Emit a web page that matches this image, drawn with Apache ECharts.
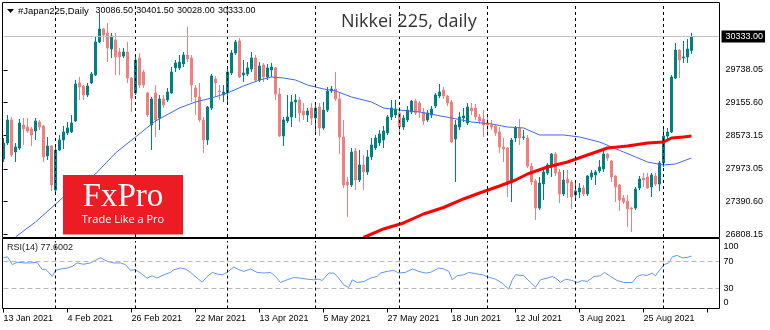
<!DOCTYPE html>
<html>
<head>
<meta charset="utf-8">
<script src="https://cdn.jsdelivr.net/npm/echarts@6/dist/echarts.min.js"></script>
<style>
  html, body { margin: 0; padding: 0; background: #fff; }
  #chart { width: 770px; height: 330px; }
</style>
</head>
<body>
<div id="chart"></div>
<script>
// ---- instrument ----
const symbolName = '#Japan225,Daily';
const chartTitle = 'Nikkei 225, daily';
const firstDate = '2021-01-13';

// ---- daily OHLC ----
const openP = [
  28151, 28436, 28846, 28276, 28347, 28757, 28721, 28686, 28650, 28811,
  28739, 28204, 28383, 27598, 28311, 28490, 28615, 28632, 28828, 29506,
  29452, 29292, 29506, 29649, 30237, 30469, 30397, 30112, 30273, 30059,
  29987, 30059, 29595, 29328, 29952, 29702, 29328, 28757, 29328, 28882,
  29221, 29203, 29328, 29774, 29774, 29845, 30005, 29952, 29417, 29256,
  28846, 28490, 29060, 29577, 29363, 29292, 29328, 29684, 30041, 30255,
  29649, 29666, 29756, 29952, 29559, 29827, 29613, 29738, 29774, 29310,
  28561, 28828, 28900, 29167, 29203, 29007, 28935, 29060, 28882, 29078,
  28704, 29024, 29363, 29399, 29221, 28543, 27741, 27687, 28294, 27776,
  28044, 27919, 28187, 28347, 28436, 28490, 28615, 28900, 28935, 28971,
  28721, 28846, 28989, 29185, 29149, 28989, 28846, 28935, 29096, 29274,
  29381, 29274, 29167, 28508, 28721, 28882, 28793, 29060, 29060, 28900,
  28864, 28793, 28757, 28739, 28632, 28365, 28347, 27723, 28525, 28704,
  28534, 28525, 28026, 27759, 27277, 27705, 27901, 28008, 28240, 27919,
  27527, 27794, 27741, 27509, 27562, 27634, 27527, 27830, 27866, 27937,
  27973, 28240, 28115, 27848, 27687, 27455, 27402, 27277, 27277, 27634,
  27812, 27830, 27652, 27848, 27705, 28080, 28561, 28632, 29595, 30094,
  29952, 29970, 30086.5
];
const highP = [
  28525, 28935, 28900, 28436, 28864, 28882, 28882, 28721, 28882, 28846,
  28757, 28543, 28401, 28365, 28579, 28739, 28811, 28935, 29559, 29613,
  29470, 29506, 29702, 30326, 30754, 30487, 30576, 30397, 30397, 30130,
  30130, 30237, 29613, 29970, 30041, 29738, 29345, 29256, 29470, 29292,
  29292, 29417, 29791, 29916, 30005, 30059, 30504, 30005, 29470, 29506,
  28900, 29096, 29666, 29631, 29470, 29470, 29774, 30094, 30273, 30308,
  29916, 29880, 30059, 30005, 29880, 29863, 29845, 29863, 29791, 29417,
  28900, 29292, 29292, 29310, 29256, 29149, 29060, 29149, 29149, 29149,
  29167, 29434, 29452, 29702, 29328, 28846, 27830, 28347, 28347, 28311,
  28222, 28311, 28525, 28579, 28668, 28739, 28935, 29203, 29203, 29078,
  28935, 29096, 29203, 29221, 29185, 29060, 29024, 29096, 29328, 29488,
  29434, 29292, 29203, 28846, 28989, 29060, 29149, 29149, 29131, 28953,
  29024, 28900, 28846, 28757, 28721, 28525, 28365, 28525, 28739, 28864,
  28668, 28579, 28080, 27794, 27830, 27973, 28080, 28258, 28276, 27973,
  27955, 27955, 27776, 27723, 27723, 27687, 27866, 27955, 27955, 28133,
  28311, 28258, 28133, 27866, 27705, 27509, 27509, 27295, 27652, 27848,
  27901, 27901, 27901, 27901, 28115, 28704, 28704, 29649, 30219, 30112,
  30255, 30290, 30401.5
];
const lowP = [
  28097, 28401, 28187, 28097, 28311, 28401, 28615, 28383, 28490, 28668,
  28097, 28133, 27580, 27562, 28294, 28329, 28579, 28615, 28811, 29203,
  29203, 29256, 29488, 29631, 30219, 30237, 29880, 29952, 29649, 29649,
  29952, 29506, 28989, 29292, 29417, 29417, 28900, 28311, 28543, 28668,
  29060, 29167, 29310, 29702, 29738, 29791, 29880, 29167, 28935, 28811,
  28258, 28401, 29024, 29256, 29203, 29167, 29149, 29649, 30005, 29595,
  29524, 29631, 29702, 29524, 29524, 29524, 29559, 29613, 29203, 28543,
  28383, 28793, 28721, 28882, 28811, 28846, 28811, 28757, 28579, 28561,
  28668, 28989, 29328, 29185, 28240, 27634, 27117, 27652, 27598, 27741,
  27598, 27866, 28133, 28311, 28383, 28347, 28579, 28846, 28882, 28615,
  28668, 28811, 28953, 28935, 28882, 28757, 28811, 28882, 29060, 29238,
  29221, 29096, 28436, 27741, 28668, 28811, 28757, 28935, 28846, 28775,
  28543, 28561, 28668, 28561, 28258, 28097, 27473, 27384, 28454, 28401,
  28490, 27990, 27687, 27063, 27241, 27420, 27866, 27830, 27848, 27366,
  27491, 27455, 27259, 27438, 27455, 27491, 27491, 27776, 27687, 27901,
  27919, 28115, 27741, 27384, 27224, 27348, 26938, 26849, 27241, 27598,
  27652, 27616, 27473, 27669, 27580, 28008, 28490, 28615, 29577, 29595,
  29863, 29863, 30028
];
const closeP = [
  28436, 28846, 28222, 28365, 28793, 28686, 28650, 28579, 28828, 28721,
  28187, 28383, 27687, 28311, 28490, 28632, 28704, 28793, 29488, 29434,
  29292, 29452, 29666, 30237, 30469, 30362, 30130, 30344, 29970, 29970,
  30059, 29595, 29238, 29916, 29470, 29470, 28935, 29221, 28846, 29221,
  29114, 29345, 29702, 29863, 29880, 30005, 29934, 29470, 29256, 28846,
  28490, 29078, 29631, 29506, 29345, 29345, 29702, 30041, 30237, 29613,
  29684, 29774, 29952, 29559, 29809, 29613, 29774, 29791, 29310, 28561,
  28846, 28900, 29167, 29203, 28971, 28935, 29007, 28882, 29060, 28704,
  29024, 29363, 29399, 29221, 28543, 27687, 27687, 28276, 27776, 28044,
  27919, 28187, 28401, 28525, 28597, 28650, 28900, 29060, 29042, 28721,
  28882, 29024, 29185, 28971, 28989, 28828, 28971, 29042, 29292, 29345,
  29274, 29149, 28454, 28757, 28900, 28918, 29078, 29007, 28900, 28828,
  28757, 28757, 28721, 28615, 28365, 28329, 27723, 28490, 28704, 28525,
  28543, 28026, 27741, 27277, 27723, 27919, 28044, 28240, 27901, 27527,
  27776, 27723, 27473, 27580, 27634, 27527, 27848, 27901, 27919, 28008,
  28240, 28169, 27830, 27652, 27420, 27384, 27259, 27259, 27616, 27794,
  27776, 27634, 27866, 27705, 28080, 28561, 28632, 29613, 30094, 29916,
  29970, 30112, 30333
];

// ---- moving averages: [bar index, price] ----
const maFast = [
  [3, 26760], [8, 27027], [15, 27473], [23, 27883], [28, 28258], [33, 28543],
  [38, 28828], [44, 29060], [48, 29167], [52, 29238], [56, 29328], [60, 29452],
  [64, 29559], [67, 29613], [70, 29595], [73, 29559], [76, 29470], [80, 29399],
  [83, 29363], [87, 29256], [92, 29167], [95, 29060], [99, 29024], [104, 28989],
  [108, 28935], [112, 28882], [117, 28811], [122, 28775], [126, 28721], [130, 28704],
  [134, 28579], [140, 28579], [144, 28543], [149, 28454], [152, 28365], [155, 28276],
  [158, 28187], [161, 28097], [165, 28044], [168, 28062], [172, 28169]
];
const maSlow = [
  [90, 26751], [95, 26903], [100, 27010], [105, 27170], [110, 27286], [115, 27438],
  [119, 27545], [124, 27669], [128, 27776], [131, 27883], [136, 28008], [141, 28097],
  [146, 28222], [151, 28347], [156, 28383], [161, 28436], [165, 28454], [167, 28525],
  [170, 28543], [172, 28561]
];

// ---- RSI(14): [bar index, value] ----
const rsi14 = [
  [0, 75.1], [1, 76.6], [2.2, 65], [3.4, 68.5], [5.1, 67.5], [6.75, 67.5], [8.4, 68.5],
  [9.7, 57.5], [10.5, 58.5], [11.3, 53.5], [12.2, 47.5], [13, 56.5], [14.25, 58.5],
  [15.9, 60], [17.2, 62.5], [18.4, 67.5], [20, 65.5], [21.75, 67.5], [23, 71.5],
  [24.25, 75.1], [25.9, 70], [27.6, 67.5], [29.25, 67.5], [30.5, 65], [31.75, 56.5],
  [33, 57.5], [34.25, 52.5], [35.9, 45], [37.2, 48.5], [38.4, 45], [40.1, 50],
  [41.75, 53.5], [42.6, 57.5], [44.25, 60], [45.5, 58.5], [46.75, 53.5], [48.4, 45],
  [49.7, 39], [50.9, 47.5], [52.2, 53.5], [53.4, 51], [54.7, 50], [55.9, 53.5],
  [57.6, 61.5], [58.8, 57.5], [60.1, 55], [61.75, 58.5], [63.4, 53.5], [65.1, 52.5],
  [66.75, 53.5], [68, 47.5], [69.25, 38.5], [70.9, 42.5], [72.6, 46], [74.25, 45],
  [75.9, 43.5], [77.6, 42.5], [78.8, 43.5], [79.7, 41.5], [81.3, 52.5], [82.6, 52.5],
  [83.8, 45], [85.1, 35], [86.3, 31], [87.2, 42.5], [88.4, 38.5], [90.1, 40],
  [91.75, 45], [93.4, 47.5], [94.25, 52.5], [95.9, 55], [97.6, 56.5], [98.8, 52.5],
  [100.5, 53.5], [102.2, 58.5], [103.8, 55], [105.5, 52.5], [106.75, 53.5], [108.8, 60],
  [110.1, 58.5], [111.3, 55], [112.2, 42.5], [113.4, 48.5], [115.1, 50], [116.3, 53.5],
  [118, 51.5], [119.7, 50], [121.3, 46.5], [123, 43.5], [124.7, 37.5], [126.3, 28.5],
  [127.2, 42.5], [128, 50], [130.1, 48.5], [131.75, 38.5], [133, 31.5], [134.25, 42.5],
  [135.9, 45], [137.2, 47.5], [138.4, 43.5], [139.25, 38.5], [140.5, 43.5], [142.2, 41.5],
  [143.4, 38.5], [144.7, 41.5], [145.9, 40], [147.6, 47.5], [149.25, 48.5], [150.25, 53.5],
  [151.75, 47.5], [153.4, 41.5], [155.1, 38.5], [157.2, 38.5], [158.4, 47.5], [159.7, 50],
  [160.9, 49], [162.2, 52.5], [163, 48.5], [164.25, 58.5], [165.1, 65], [166.3, 67.5],
  [167.2, 76.6], [168.4, 78.6], [169.7, 75.1], [170.9, 75.6], [172, 77.6002]
];

// ---- axis labels ----
const priceTicks = [26808.15, 27390.60, 27973.05, 28573.15, 29155.60, 29738.05];
const rsiTicks = [0, 30, 70, 100];
const rsiLevels = [70, 30];
const priceMin = 26760;
const priceMax = 30932;
const padBars = 7;          // empty space right of the last bar
const MON = ['Jan','Feb','Mar','Apr','May','Jun','Jul','Aug','Sep','Oct','Nov','Dec'];

// trading calendar: consecutive weekdays from the first date
const dates = [];
{
  const d = new Date(firstDate + 'T00:00:00Z');
  while (dates.length < closeP.length) {
    const wd = d.getUTCDay();
    if (wd !== 0 && wd !== 6) dates.push(d.toISOString().slice(0, 10));
    d.setUTCDate(d.getUTCDate() + 1);
  }
}
const categories = dates.concat(Array.from({ length: padBars }, (_, k) => 'pad' + k));
const nBars = categories.length;
const last = dates.length - 1;

function fmtDate(s) {
  if (!/^\d{4}-\d{2}-\d{2}$/.test(s)) return '';
  const [y, m, dd] = s.split('-');
  return (+dd) + ' ' + MON[+m - 1] + ' ' + y;
}

// first bar of every month -> period separators
const monthStarts = [];
for (let i = 1; i < dates.length; i++) {
  if (dates[i].slice(5, 7) !== dates[i - 1].slice(5, 7)) monthStarts.push(i);
}

const candles = dates.map((_, i) => [openP[i], closeP[i], lowP[i], highP[i]]);

const FONT = '"Liberation Sans", Arial, sans-serif';
const BULL = '#008080';
const BEAR = '#F08080';
const sepStyle = { color: '#000', type: [3, 3], width: 1 };

const chart = echarts.init(document.getElementById('chart'), null, { renderer: 'canvas' });

const option = {
  animation: false,
  backgroundColor: '#ffffff',
  textStyle: { fontFamily: FONT },
  grid: [
    { left: 3.5, top: 3, width: 716, height: 234, containLabel: false, outerBoundsMode: 'none' },
    { left: 3.5, top: 241, width: 716, height: 67.5, containLabel: false, outerBoundsMode: 'none' }
  ],
  xAxis: [
    { type: 'category', gridIndex: 0, data: categories, boundaryGap: false,
      axisLine: { show: false }, axisTick: { show: false }, axisLabel: { show: false }, splitLine: { show: false } },
    { type: 'value', gridIndex: 0, min: 0, max: nBars - 1, show: false },
    { type: 'category', gridIndex: 1, data: categories, boundaryGap: false,
      axisLine: { show: false },
      axisTick: { show: true, interval: 15, length: 4, inside: false, lineStyle: { color: '#000', width: 1 } },
      axisLabel: { show: true, interval: 15, formatter: fmtDate, align: 'left', margin: 6,
                   fontSize: 9, color: '#000', fontFamily: FONT },
      splitLine: { show: false } },
    { type: 'value', gridIndex: 1, min: 0, max: nBars - 1, show: false }
  ],
  yAxis: [
    { type: 'value', gridIndex: 0, position: 'right', min: priceMin, max: priceMax,
      axisLine: { show: false }, splitLine: { show: false },
      axisTick: { show: true, length: 4, inside: false, customValues: priceTicks, lineStyle: { color: '#000' } },
      axisLabel: { show: true, customValues: priceTicks, formatter: v => v.toFixed(2), margin: 6,
                   fontSize: 9, color: '#000', fontFamily: FONT } },
    { type: 'value', gridIndex: 1, position: 'right', min: 0, max: 100,
      axisLine: { show: false }, splitLine: { show: false }, axisTick: { show: false },
      axisLabel: { show: true, customValues: rsiTicks, margin: 4, fontSize: 9, color: '#000', fontFamily: FONT,
        formatter: v => v === 100 ? '{hi|100}' : v === 0 ? '{lo|0}' : String(v),
        rich: {
          hi: { padding: [11, 0, 0, 0], fontSize: 9, color: '#000', fontFamily: FONT },
          lo: { padding: [0, 0, 11, 0], fontSize: 9, color: '#000', fontFamily: FONT }
        } } }
  ],
  series: [
    {
      type: 'candlestick', name: 'price', xAxisIndex: 0, yAxisIndex: 0,
      data: candles, barWidth: 2,
      itemStyle: { color: BULL, color0: BEAR, borderColor: BULL, borderColor0: BEAR, borderWidth: 1 },
      markLine: {
        silent: true, symbol: ['none', 'none'], animation: false,
        label: { show: false },
        data: monthStarts.map(i => ({ xAxis: dates[i], lineStyle: sepStyle, label: { show: false } })).concat([{
          yAxis: closeP[last],
          lineStyle: { color: '#c0c0c0', type: 'solid', width: 1 },
          label: { show: true, position: 'end', distance: 2, formatter: closeP[last].toFixed(2),
                   backgroundColor: '#000', color: '#fff', padding: [2, 2, 1, 4],
                   fontSize: 9, fontFamily: FONT }
        }])
      },
      z: 2
    },
    {
      type: 'line', name: 'MA fast', xAxisIndex: 1, yAxisIndex: 0, data: maFast,
      symbol: 'none', smooth: false, lineStyle: { color: '#4169E1', width: 1 }, z: 3
    },
    {
      type: 'line', name: 'MA slow', xAxisIndex: 1, yAxisIndex: 0, data: maSlow,
      symbol: 'none', smooth: false, lineStyle: { color: '#FF0000', width: 3 }, z: 3
    },
    {
      type: 'line', name: 'RSI(14)', xAxisIndex: 3, yAxisIndex: 1, data: rsi14,
      symbol: 'none', lineStyle: { color: '#6495ED', width: 1 },
      markLine: {
        silent: true, symbol: ['none', 'none'], animation: false, label: { show: false },
        data: rsiLevels.map(v => ({ yAxis: v, lineStyle: { color: '#b8b8b8', type: [5, 3], width: 1 } }))
          .concat(monthStarts.map(i => ({ xAxis: i, lineStyle: sepStyle })))
      },
      z: 3
    }
  ],
  graphic: [
    // panel frames
    { type: 'rect', z: 50, silent: true, shape: { x: 2.5, y: 2.5, width: 717, height: 235 },
      style: { fill: null, stroke: '#000', lineWidth: 1 } },
    { type: 'rect', z: 50, silent: true, shape: { x: 2.5, y: 238.5, width: 717, height: 70 },
      style: { fill: null, stroke: '#000', lineWidth: 1 } },
    // header: symbol + OHLC of the last bar
    { type: 'polygon', z: 60, silent: true, shape: { points: [[7, 9], [14, 9], [10.5, 13]] }, style: { fill: '#000' } },
    { type: 'text', z: 60, silent: true, x: 18, y: 11,
      style: { text: symbolName, fill: '#000', font: '9.5px ' + FONT, verticalAlign: 'middle' } },
    ...[openP[last], highP[last], lowP[last], closeP[last]].map((v, k) => ({
      type: 'text', z: 60, silent: true, x: 95.5 + k * 40.8, y: 11,
      style: { text: v.toFixed(2), fill: '#000', font: '9px ' + FONT, verticalAlign: 'middle' }
    })),
    // chart title
    { type: 'text', z: 60, silent: true, x: 341, y: 22,
      style: { text: chartTitle, fill: '#333', font: '18px "Open Sans", sans-serif', verticalAlign: 'middle' } },
    // indicator caption
    { type: 'text', z: 60, silent: true, x: 7, y: 248,
      style: { text: 'RSI(14) ' + rsi14[rsi14.length - 1][1].toFixed(4), fill: '#222', font: '9px ' + FONT, verticalAlign: 'middle' } },
    // broker badge
    { type: 'group', z: 100, silent: true, children: [
      { type: 'rect', z: 100, shape: { x: 63, y: 175, width: 120, height: 59.5 }, style: { fill: '#ED1C24' } },
      { type: 'text', z: 101, x: 123, y: 197,
        style: { text: 'FxPro', fill: '#fff', font: '33px "Liberation Serif", "DejaVu Serif", serif', align: 'center', verticalAlign: 'middle' } },
      { type: 'text', z: 101, x: 123, y: 220,
        style: { text: 'Trade Like a Pro', fill: '#fff', font: '11px "Open Sans", sans-serif', align: 'center', verticalAlign: 'middle' } }
    ] }
  ]
};

chart.setOption(option);
</script>
</body>
</html>
